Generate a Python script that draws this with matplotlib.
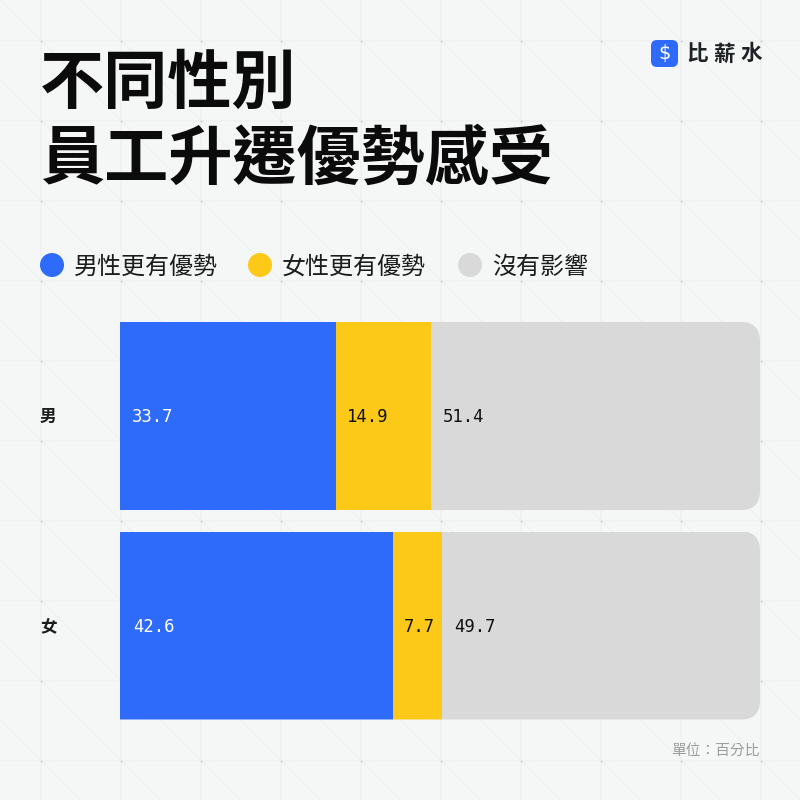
import matplotlib
matplotlib.use("Agg")
import matplotlib.pyplot as plt
from matplotlib.patches import Circle, FancyBboxPatch

plt.rcParams['font.family'] = ['Noto Sans CJK TC', 'DejaVu Sans']

# values
groups = ["男", "女"]
male_adv = [33.7, 42.6]
female_adv = [14.9, 7.7]
no_effect = [51.4, 49.7]
series_names = ["男性更有優勢", "女性更有優勢", "沒有影響"]

BLUE = "#2f6bfa"
YELLOW = "#fdc918"
GREY = "#d9d9d9"
BG = "#f5f7f7"

fig = plt.figure(figsize=(8, 8), dpi=100, facecolor=BG)

# page layer, in pixels
bg = fig.add_axes([0, 0, 1, 1])
bg.set_xlim(0, 800)
bg.set_ylim(800, 0)
bg.axis("off")

for k in range(-9, 10):
    d = k * 80 + 1
    bg.plot([d, d + 800], [0, 800], color="#eef0f0", lw=0.8, zorder=1)
for p in range(41, 800, 80):
    bg.axvline(p, color="#eff1f1", lw=1.2, zorder=1)
    bg.axhline(p, color="#eff1f1", lw=1.2, zorder=1)
for px in range(41, 800, 80):
    for py in range(41, 800, 80):
        bg.plot(px, py, "s", ms=1.2, color="#c8caca", mew=0, zorder=2)

bg.text(40, 84, "不同性別", fontsize=46.2, fontweight="black", color="#0b0b0b", va="center", ha="left")
bg.text(40, 160, "員工升遷優勢感受", fontsize=46.2, fontweight="black", color="#0b0b0b", va="center", ha="left")

# logo
bg.add_patch(FancyBboxPatch((656, 45), 17, 17, boxstyle="round,pad=5,rounding_size=6", fc=BLUE, ec="none", zorder=3))
bg.text(664.5, 53.5, "$", fontsize=14, color="white", ha="center", va="center",
        family="DejaVu Sans", zorder=4)
for x, ch in zip([697, 724, 751], "比薪水"):
    bg.text(x, 54, ch, fontsize=15.5, fontweight="bold", color="#1f2225", ha="center", va="center")

# legend
for cx, tx, name, col in zip([52, 260, 470], [74, 282, 492], series_names, [BLUE, YELLOW, GREY]):
    bg.add_patch(Circle((cx, 265), 12, fc=col, ec="none", zorder=3))
    bg.text(tx, 267, name, fontsize=17.3, color="#1c1c1c", va="center", ha="left")

bg.text(760, 751, "單位：百分比", fontsize=10.6, color="#9b9d9d", ha="right", va="center")

# bars
ax = fig.add_axes([120 / 800, 1 - 720 / 800, 640 / 800, 398 / 800])
ax.patch.set_alpha(0)
ax.set_xlim(0, 100)
h = 188 / 210
ax.set_ylim(1 + h / 2, -h / 2)
ax.axis("off")

ypos = [0, 1]
left2 = male_adv
left3 = [a + b for a, b in zip(male_adv, female_adv)]
bars = []
bars += ax.barh(ypos, male_adv, height=h, color=BLUE)
bars += ax.barh(ypos, female_adv, left=left2, height=h, color=YELLOW)
bars += ax.barh(ypos, no_effect, left=left3, height=h, color=GREY)

# rounded right end on each row
for i, y in enumerate(ypos):
    clip = FancyBboxPatch((120 - 40, 322 + i * 209.5), 680, 188,
                          boxstyle="round,pad=0,rounding_size=19", transform=bg.transData, fc="none", ec="none")
    bg.add_patch(clip)
    for b in bars[i::2]:
        b.set_clip_path(clip)

blue_pad = [1.8, 2.1]
mono = "DejaVu Sans Mono"
for y, g, a, b, c, l2, l3, p in zip(ypos, groups, male_adv, female_adv, no_effect, left2, left3, blue_pad):
    ax.text(p, y + 0.005, f"{a}", color="white", family=mono, fontsize=12.4, va="center")
    ax.text(l2 + 1.75, y + 0.005, f"{b}", color="#111111", family=mono, fontsize=12.4, va="center")
    ax.text(l3 + 1.9, y + 0.005, f"{c}", color="#111111", family=mono, fontsize=12.4, va="center")
    bg.text(40, 417 + y * 210, g, fontsize=12, fontweight="bold", color="#1c1c1c", va="center", ha="left")

fig.savefig("out.png", dpi=100, facecolor=BG)
